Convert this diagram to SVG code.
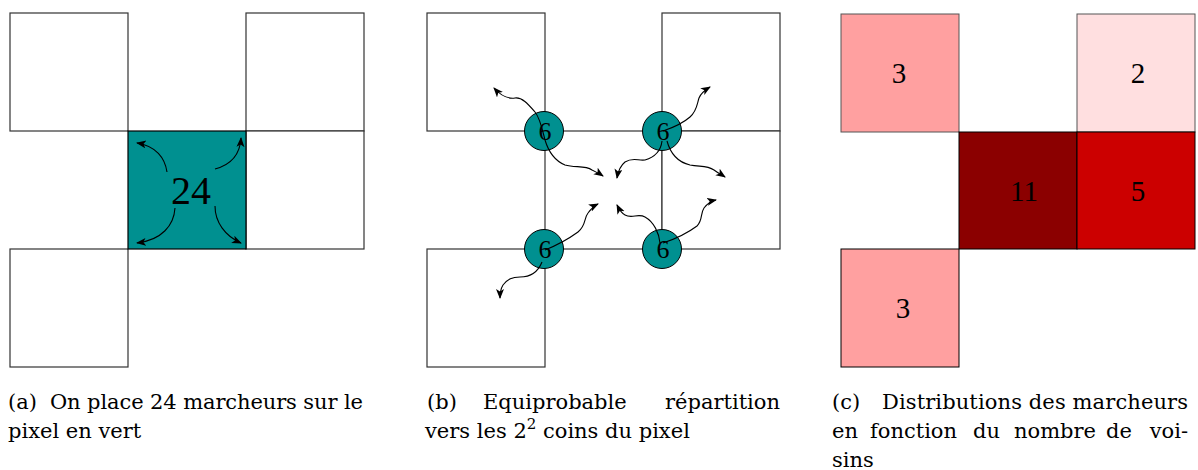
<svg xmlns="http://www.w3.org/2000/svg" width="1198" height="470" viewBox="0 0 1198 470">
<style>
.sq{fill:#fff;stroke:#333;stroke-width:1.2}
.cur{fill:none;stroke:#000;stroke-width:1.1}
.num{font-family:"Liberation Serif",serif;fill:#000;text-anchor:middle}
.cap{font-family:"DejaVu Serif",serif;font-size:21px;fill:#000}
.node{fill:#009090;stroke:#000;stroke-width:1}
</style>
<defs>
<marker id="ah" markerUnits="userSpaceOnUse" markerWidth="12" markerHeight="10" refX="9" refY="4" orient="auto">
<path d="M0,0 L10,4 L0,8 L2.5,4 z" fill="#000"/>
</marker>
</defs>
<g id="panel-a">
<rect class="sq" x="10" y="13" width="118" height="118"/>
<rect class="sq" x="246" y="13" width="118" height="118"/>
<rect class="sq" x="246" y="131" width="118" height="118"/>
<rect class="sq" x="10" y="249" width="118" height="118"/>
<g id="a-center">
<rect x="128" y="131" width="118" height="118" fill="#009090" stroke="#000" stroke-width="1.2"/>
<text class="num" x="191" y="204" font-size="40">24</text>
</g>
</g>
<g id="panel-b">
<rect class="sq" x="427" y="13" width="118" height="118"/>
<rect class="sq" x="662" y="13" width="118" height="118"/>
<rect class="sq" x="545" y="131" width="117" height="118"/>
<rect class="sq" x="662" y="131" width="118" height="118"/>
<rect class="sq" x="427" y="249" width="118" height="118"/>
<g id="b-c1"><circle class="node" cx="544" cy="131" r="19.5"/><text class="num" x="545" y="140" font-size="26">6</text></g>
<g id="b-c2"><circle class="node" cx="662" cy="131" r="19.5"/><text class="num" x="663" y="140" font-size="26">6</text></g>
<g id="b-c3"><circle class="node" cx="544" cy="249" r="19.5"/><text class="num" x="545" y="258" font-size="26">6</text></g>
<g id="b-c4"><circle class="node" cx="662" cy="249" r="19.5"/><text class="num" x="663" y="258" font-size="26">6</text></g>
</g>
<g id="panel-c">
<g id="c-tl"><rect x="841" y="14" width="118" height="118" fill="#ffa0a0" stroke="#555" stroke-width="1"/><text class="num" x="899" y="83" font-size="29">3</text></g>
<g id="c-tr"><rect x="1077" y="14" width="118" height="118" fill="#ffdfe0" stroke="#555" stroke-width="1"/><text class="num" x="1138" y="83" font-size="29">2</text></g>
<g id="c-mid"><rect x="959" y="132" width="118" height="117" fill="#8b0000" stroke="#000" stroke-width="1"/><text class="num" x="1024" y="201" font-size="29">11</text></g>
<g id="c-mr"><rect x="1077" y="132" width="118" height="117" fill="#cc0000" stroke="#000" stroke-width="1"/><text class="num" x="1138" y="201" font-size="29">5</text></g>
<g id="c-bl"><rect x="841" y="249" width="118" height="118" fill="#ffa0a0" stroke="#000" stroke-width="1"/><text class="num" x="903" y="318" font-size="29">3</text></g>
</g>
<g id="connectors">
<path class="cur" marker-end="url(#ah)" d="M167,172 C165,158 156,146 137,143"/>
<path class="cur" marker-end="url(#ah)" d="M215,169 C230,165 240,155 241,138"/>
<path class="cur" marker-end="url(#ah)" d="M175,208 C174,225 162,240 137,243"/>
<path class="cur" marker-end="url(#ah)" d="M215,206 C215,222 225,236 241,243"/>
<path class="cur" marker-end="url(#ah)" d="M545,140 C542,128 540,118 535,112 C528,104 522,97 515,98 C508,99 502,97 494,88"/>
<path class="cur" marker-end="url(#ah)" d="M545,140 C548,150 553,160 565,165 C575,168 585,165 592,170 C596,172 600,174 603,176"/>
<path class="cur" marker-end="url(#ah)" d="M663,131 C672,128 682,124 690,117 C697,111 697,104 699,98 C701,93 705,90 710,87"/>
<path class="cur" marker-end="url(#ah)" d="M662,141 C661,150 655,157 645,160 C638,161 633,157 625,162 C620,166 618,172 617,178"/>
<path class="cur" marker-end="url(#ah)" d="M667,141 C670,152 677,162 690,165 C700,167 707,165 714,170 C718,173 722,175 725,177"/>
<path class="cur" marker-end="url(#ah)" d="M545,250 C555,246 567,240 578,232 C586,226 584,218 588,213 C591,209 594,206 598,204"/>
<path class="cur" marker-end="url(#ah)" d="M542,262 C538,272 530,277 520,277 C512,277 508,279 503,285 C500,290 500,294 500,298"/>
<path class="cur" marker-end="url(#ah)" d="M660,243 C659,233 654,222 645,217 C638,213 632,219 625,215 C621,213 619,209 617,205"/>
<path class="cur" marker-end="url(#ah)" d="M663,243 C672,240 685,235 697,226 C703,220 700,214 704,208 C707,204 711,201 716,200"/>
</g>
<g id="captions">
<text class="cap" x="8" y="409">(a)</text>
<text class="cap" x="50" y="409" textLength="313" lengthAdjust="spacing">On place 24 marcheurs sur le</text>
<text class="cap" x="8" y="438">pixel en vert</text>
<text class="cap" x="427" y="409">(b)</text>
<text class="cap" x="483" y="409">Equiprobable</text>
<text class="cap" x="780" y="409" text-anchor="end">répartition</text>
<text class="cap" x="425" y="438">vers les 2<tspan dy="-9" font-size="15">2</tspan><tspan dy="9"> coins du pixel</tspan></text>
<text class="cap" x="832" y="409">(c)</text>
<text class="cap" x="882" y="409" textLength="306" lengthAdjust="spacing">Distributions des marcheurs</text>
<text class="cap" x="832" y="438">en</text>
<text class="cap" x="870" y="438">fonction</text>
<text class="cap" x="973" y="438">du</text>
<text class="cap" x="1014" y="438">nombre</text>
<text class="cap" x="1106" y="438">de</text>
<text class="cap" x="1188" y="438" text-anchor="end">voi-</text>
<text class="cap" x="832" y="467">sins</text>
</g>
</svg>
